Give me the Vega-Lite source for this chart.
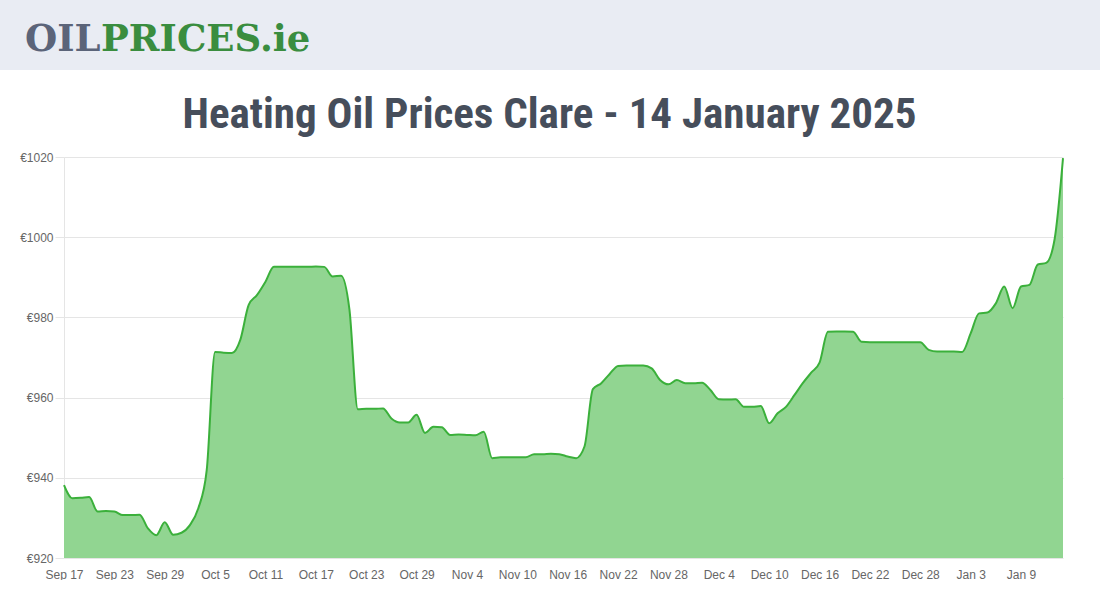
{
  "$schema": "https://vega.github.io/schema/vega-lite/v6.json",
  "padding": 0,
  "background": "white",
  "spacing": 24,
  "columns": 1,
  "align": "none",
  "bounds": "full",
  "config": {"view": {"stroke": null}, "font": "Liberation Sans, Arial, sans-serif"},
  "concat": [
    {
      "width": 1100,
      "height": 70,
      "view": {"fill": "#e9ecf3", "stroke": null},
      "data": {"values": [{"a": "OIL", "b": "PRICES.ie"}]},
      "layer": [
        {
          "mark": {"type": "text", "x": 25, "y": 51, "align": "left", "baseline": "alphabetic", "font": "DejaVu Serif", "fontWeight": "bold", "fontSize": 37, "color": "#5b6479"},
          "encoding": {"text": {"field": "a"}}
        },
        {
          "mark": {"type": "text", "x": 101, "y": 51, "align": "left", "baseline": "alphabetic", "font": "DejaVu Serif", "fontWeight": "bold", "fontSize": 37, "color": "#3a8d3f"},
          "encoding": {"text": {"field": "b"}}
        }
      ]
    },
    {
      "width": 1063,
      "height": 401,
      "title": {
        "text": "Heating Oil Prices Clare - 14 January 2025",
        "font": "Roboto Condensed, Liberation Sans, Arial, sans-serif",
        "fontSize": 43,
        "fontWeight": "bold",
        "color": "#464e5b",
        "anchor": "middle",
        "offset": 14,
        "dx": 18
      },
      "data": {
        "values": [
          {"date": "2024-09-17", "price": 938.2},
          {"date": "2024-09-18", "price": 934.9},
          {"date": "2024-09-19", "price": 935.0},
          {"date": "2024-09-20", "price": 935.2},
          {"date": "2024-09-21", "price": 931.6},
          {"date": "2024-09-22", "price": 931.7},
          {"date": "2024-09-23", "price": 931.6},
          {"date": "2024-09-24", "price": 930.7},
          {"date": "2024-09-25", "price": 930.7},
          {"date": "2024-09-26", "price": 930.8},
          {"date": "2024-09-27", "price": 927.4},
          {"date": "2024-09-28", "price": 925.7},
          {"date": "2024-09-29", "price": 928.9},
          {"date": "2024-09-30", "price": 925.8},
          {"date": "2024-10-01", "price": 926.3},
          {"date": "2024-10-02", "price": 928.2},
          {"date": "2024-10-03", "price": 932.4},
          {"date": "2024-10-04", "price": 941.9},
          {"date": "2024-10-05", "price": 971.4},
          {"date": "2024-10-06", "price": 971.2},
          {"date": "2024-10-07", "price": 971.1},
          {"date": "2024-10-08", "price": 974.4},
          {"date": "2024-10-09", "price": 983.1},
          {"date": "2024-10-10", "price": 985.6},
          {"date": "2024-10-11", "price": 988.9},
          {"date": "2024-10-12", "price": 992.6},
          {"date": "2024-10-13", "price": 992.6},
          {"date": "2024-10-14", "price": 992.6},
          {"date": "2024-10-15", "price": 992.6},
          {"date": "2024-10-16", "price": 992.6},
          {"date": "2024-10-17", "price": 992.7},
          {"date": "2024-10-18", "price": 992.6},
          {"date": "2024-10-19", "price": 990.2},
          {"date": "2024-10-20", "price": 990.4},
          {"date": "2024-10-21", "price": 982.0},
          {"date": "2024-10-22", "price": 957.1},
          {"date": "2024-10-23", "price": 957.2},
          {"date": "2024-10-24", "price": 957.2},
          {"date": "2024-10-25", "price": 957.3},
          {"date": "2024-10-26", "price": 954.8},
          {"date": "2024-10-27", "price": 953.8},
          {"date": "2024-10-28", "price": 953.8},
          {"date": "2024-10-29", "price": 955.7},
          {"date": "2024-10-30", "price": 951.2},
          {"date": "2024-10-31", "price": 952.7},
          {"date": "2024-11-01", "price": 952.6},
          {"date": "2024-11-02", "price": 950.7},
          {"date": "2024-11-03", "price": 950.8},
          {"date": "2024-11-04", "price": 950.7},
          {"date": "2024-11-05", "price": 950.6},
          {"date": "2024-11-06", "price": 951.5},
          {"date": "2024-11-07", "price": 944.9},
          {"date": "2024-11-08", "price": 945.1},
          {"date": "2024-11-09", "price": 945.1},
          {"date": "2024-11-10", "price": 945.1},
          {"date": "2024-11-11", "price": 945.1},
          {"date": "2024-11-12", "price": 945.9},
          {"date": "2024-11-13", "price": 945.9},
          {"date": "2024-11-14", "price": 946.0},
          {"date": "2024-11-15", "price": 945.9},
          {"date": "2024-11-16", "price": 945.3},
          {"date": "2024-11-17", "price": 944.9},
          {"date": "2024-11-18", "price": 947.8},
          {"date": "2024-11-19", "price": 962.1},
          {"date": "2024-11-20", "price": 963.6},
          {"date": "2024-11-21", "price": 965.9},
          {"date": "2024-11-22", "price": 967.9},
          {"date": "2024-11-23", "price": 968.0},
          {"date": "2024-11-24", "price": 968.0},
          {"date": "2024-11-25", "price": 968.0},
          {"date": "2024-11-26", "price": 967.3},
          {"date": "2024-11-27", "price": 964.4},
          {"date": "2024-11-28", "price": 963.3},
          {"date": "2024-11-29", "price": 964.4},
          {"date": "2024-11-30", "price": 963.6},
          {"date": "2024-12-01", "price": 963.6},
          {"date": "2024-12-02", "price": 963.7},
          {"date": "2024-12-03", "price": 961.9},
          {"date": "2024-12-04", "price": 959.6},
          {"date": "2024-12-05", "price": 959.5},
          {"date": "2024-12-06", "price": 959.6},
          {"date": "2024-12-07", "price": 957.7},
          {"date": "2024-12-08", "price": 957.7},
          {"date": "2024-12-09", "price": 957.9},
          {"date": "2024-12-10", "price": 953.6},
          {"date": "2024-12-11", "price": 956.1},
          {"date": "2024-12-12", "price": 957.7},
          {"date": "2024-12-13", "price": 960.6},
          {"date": "2024-12-14", "price": 963.6},
          {"date": "2024-12-15", "price": 966.2},
          {"date": "2024-12-16", "price": 968.7},
          {"date": "2024-12-17", "price": 976.4},
          {"date": "2024-12-18", "price": 976.5},
          {"date": "2024-12-19", "price": 976.5},
          {"date": "2024-12-20", "price": 976.4},
          {"date": "2024-12-21", "price": 973.9},
          {"date": "2024-12-22", "price": 973.8},
          {"date": "2024-12-23", "price": 973.8},
          {"date": "2024-12-24", "price": 973.8},
          {"date": "2024-12-25", "price": 973.8},
          {"date": "2024-12-26", "price": 973.8},
          {"date": "2024-12-27", "price": 973.8},
          {"date": "2024-12-28", "price": 973.8},
          {"date": "2024-12-29", "price": 971.9},
          {"date": "2024-12-30", "price": 971.5},
          {"date": "2024-12-31", "price": 971.5},
          {"date": "2025-01-01", "price": 971.5},
          {"date": "2025-01-02", "price": 971.4},
          {"date": "2025-01-03", "price": 976.0},
          {"date": "2025-01-04", "price": 981.0},
          {"date": "2025-01-05", "price": 981.2},
          {"date": "2025-01-06", "price": 983.5},
          {"date": "2025-01-07", "price": 987.7},
          {"date": "2025-01-08", "price": 982.3},
          {"date": "2025-01-09", "price": 987.7},
          {"date": "2025-01-10", "price": 988.1},
          {"date": "2025-01-11", "price": 993.2},
          {"date": "2025-01-12", "price": 993.6},
          {"date": "2025-01-13", "price": 999.5},
          {"date": "2025-01-14", "price": 1019.7}
        ]
      },
      "mark": {
        "type": "area",
        "interpolate": "monotone",
        "color": "#91d591",
        "opacity": 1,
        "line": {"color": "#3bb03b", "strokeWidth": 2}
      },
      "encoding": {
        "x": {
          "field": "date",
          "type": "temporal",
          "scale": {"type": "utc", "nice": false, "range": [64, 1063]},
          "axis": {
            "title": null,
            "values": [1726531200000, 1727049600000, 1727568000000, 1728086400000, 1728604800000, 1729123200000, 1729641600000, 1730160000000, 1730678400000, 1731196800000, 1731715200000, 1732233600000, 1732752000000, 1733270400000, 1733788800000, 1734307200000, 1734825600000, 1735344000000, 1735862400000, 1736380800000],
            "labelExpr": "utcFormat(datum.value, '%b %-d')",
            "grid": false,
            "ticks": false,
            "domain": false,
            "labelPadding": 11,
            "labelColor": "#666666",
            "labelFont": "Liberation Sans, Arial, sans-serif",
            "labelFontSize": 12,
            "labelFlush": false,
            "labelOverlap": false
          }
        },
        "y": {
          "field": "price",
          "type": "quantitative",
          "scale": {"domain": [920, 1020], "nice": false, "zero": false},
          "axis": {
            "title": null,
            "offset": -64,
            "values": [920, 940, 960, 980, 1000, 1020],
            "labelExpr": "'€' + datum.value",
            "grid": true,
            "gridColor": "#e5e5e5",
            "domain": true,
            "domainColor": "#e5e5e5",
            "tickColor": "#e5e5e5",
            "tickSize": 9,
            "labelPadding": 2,
            "labelColor": "#666666",
            "labelFont": "Liberation Sans, Arial, sans-serif",
            "labelFontSize": 12
          }
        },
        "y2": {"datum": 920}
      }
    }
  ]
}
